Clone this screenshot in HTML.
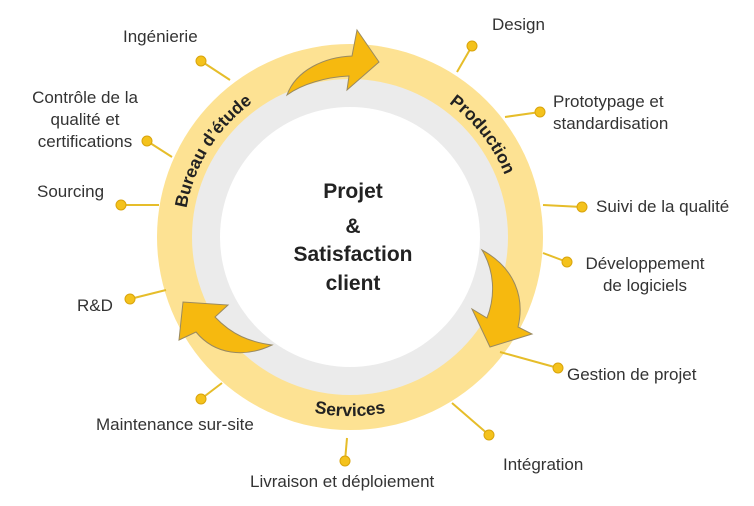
<!DOCTYPE html>
<html><head><meta charset="utf-8"><style>
html,body{margin:0;padding:0;background:#fff;}
svg{display:block;}
text{font-family:"Liberation Sans",sans-serif;}
.l{font-size:17px;fill:#333;}
.c{font-size:21px;font-weight:bold;fill:#222;}
.r{font-size:17.5px;font-weight:bold;fill:#222;}
</style></head><body>
<svg width="754" height="506" viewBox="0 0 754 506" xmlns="http://www.w3.org/2000/svg">
<defs>
<path id="pb" d="M203.4,314.9 A166,166 0 0 1 355.8,71.1"/>
<path id="pp" d="M330,72.2 A166,166 0 0 1 505,298"/>
<path id="ps" d="M193.2,327.5 A183,183 0 0 0 506.8,327.5"/>
</defs>
<circle cx="350" cy="237" r="193" fill="#fde293"/>
<circle cx="350" cy="237" r="158" fill="#ebebeb"/>
<circle cx="350" cy="237" r="130" fill="#fff"/>
<g stroke="#e6bd2a" stroke-width="2">
<line x1="201" y1="61" x2="230" y2="80"/>
<line x1="472" y1="46" x2="457" y2="72"/>
<line x1="540" y1="112" x2="505" y2="117"/>
<line x1="147" y1="141" x2="172" y2="157"/>
<line x1="582" y1="207" x2="543" y2="205"/>
<line x1="121" y1="205" x2="159" y2="205"/>
<line x1="567" y1="262" x2="543" y2="253"/>
<line x1="130" y1="299" x2="166" y2="290"/>
<line x1="558" y1="368" x2="500" y2="352"/>
<line x1="201" y1="399" x2="222" y2="383"/>
<line x1="489" y1="435" x2="452" y2="403"/>
<line x1="345" y1="461" x2="347" y2="438"/>
</g>
<g fill="#f4c21c" stroke="#d9a40c" stroke-width="1">
<circle cx="201" cy="61" r="5"/><circle cx="472" cy="46" r="5"/><circle cx="540" cy="112" r="5"/>
<circle cx="147" cy="141" r="5"/><circle cx="582" cy="207" r="5"/><circle cx="121" cy="205" r="5"/>
<circle cx="567" cy="262" r="5"/><circle cx="130" cy="299" r="5"/><circle cx="558" cy="368" r="5"/>
<circle cx="201" cy="399" r="5"/><circle cx="489" cy="435" r="5"/><circle cx="345" cy="461" r="5"/>
</g>
<g fill="#f6b90f" stroke="#9a8a60" stroke-width="1">
<path d="M287,95 C296,70 325,57 352,56 L357,30 L379,62 L347,90 L349,76 C326,77 302,84 287,95 Z"/>
<path d="M482,250 C515,268 525,298 518,327 L532,334 L490,347 L472,309 L487,318 C496,295 494,270 482,250 Z"/>
<path d="M272,345 C245,358 215,355 196,332 L179,340 L183,302 L228,305 L215,317 C232,335 250,342 272,345 Z"/>
</g>
<text class="r"><textPath href="#pb" startOffset="50%" text-anchor="middle">Bureau d’étude</textPath></text>
<text class="r"><textPath href="#pp" startOffset="50%" text-anchor="middle">Production</textPath></text>
<text class="r"><textPath href="#ps" startOffset="50%" text-anchor="middle">Services</textPath></text>
<g text-anchor="middle">
<text x="353" y="198" class="c">Projet</text>
<text x="353" y="233" class="c">&amp;</text>
<text x="353" y="261" class="c">Satisfaction</text>
<text x="353" y="290" class="c">client</text>
</g>
<text x="123" y="42" class="l">Ingénierie</text>
<text x="492" y="30" class="l">Design</text>
<text x="553" y="107" class="l">Prototypage et</text>
<text x="553" y="129" class="l">standardisation</text>
<text x="85" y="103" class="l" text-anchor="middle">Contrôle de la</text>
<text x="85" y="125" class="l" text-anchor="middle">qualité et</text>
<text x="85" y="147" class="l" text-anchor="middle">certifications</text>
<text x="596" y="212" class="l">Suivi de la qualité</text>
<text x="37" y="197" class="l">Sourcing</text>
<text x="645" y="269" class="l" text-anchor="middle">Développement</text>
<text x="645" y="291" class="l" text-anchor="middle">de logiciels</text>
<text x="77" y="311" class="l">R&amp;D</text>
<text x="567" y="380" class="l">Gestion de projet</text>
<text x="96" y="430" class="l">Maintenance sur-site</text>
<text x="503" y="470" class="l">Intégration</text>
<text x="250" y="487" class="l">Livraison et déploiement</text>
</svg>
</body></html>
